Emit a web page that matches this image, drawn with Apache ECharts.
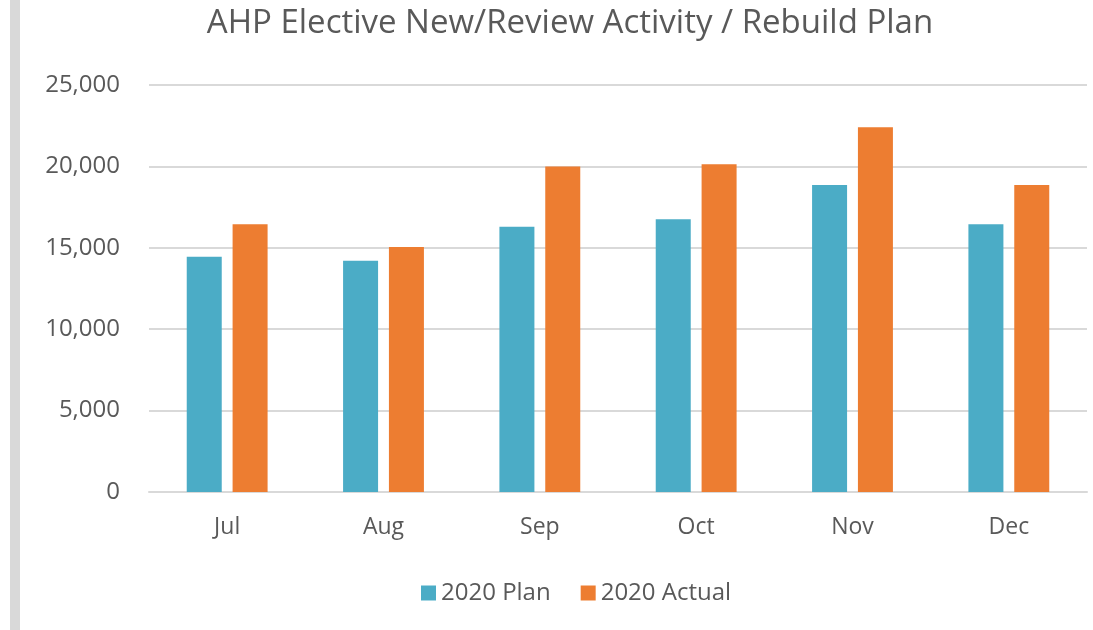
<!DOCTYPE html>
<html>
<head>
<meta charset="utf-8">
<script src="https://cdn.jsdelivr.net/npm/echarts@6/dist/echarts.min.js"></script>
<style>
    html, body { margin: 0; padding: 0; background: #fff; }
    #statistic { width: 1093px; height: 630px; }
</style>
</head>
<body>
<div id="statistic"></div>
<script>
var months = ['Jul', 'Aug', 'Sep', 'Oct', 'Nov', 'Dec'];
var planData = [14450, 14200, 16300, 16750, 18850, 16450];
var actualData = [16450, 15050, 19990, 20130, 22400, 18850];
var yTicks = [0, 5000, 10000, 15000, 20000, 25000];

var textColor = '#595959';
var fontName = 'Open Sans';

var myChart = echarts.init(document.getElementById('statistic'));
var option = {
    backgroundColor: '#fff',
    textStyle: { fontFamily: fontName },
    title: {
        text: 'AHP Elective New/Review Activity / Rebuild Plan',
        left: 565,
        top: 2,
        textAlign: 'center',
        textStyle: {
            color: textColor,
            fontSize: 33,
            fontWeight: 'normal',
            fontFamily: fontName
        }
    },
    // gray strip on the left edge
    graphic: [{
        type: 'rect',
        left: 10,
        top: 0,
        shape: { width: 10, height: 630 },
        style: { fill: '#d9d9d9' }
    }],
    legend: {
        data: ['2020 Plan', '2020 Actual'],
        left: 416,
        top: 576,
        icon: 'rect',
        itemWidth: 15,
        itemHeight: 15,
        itemGap: 30,
        textStyle: { color: textColor, fontSize: 24, fontFamily: fontName }
    },
    grid: {
        left: 149,
        right: 6,
        top: 85,
        bottom: 138
    },
    xAxis: {
        type: 'category',
        data: months,
        axisLine: { lineStyle: { color: '#d9d9d9', width: 2 } },
        axisTick: { show: false },
        axisLabel: { color: textColor, fontSize: 23, margin: 24, fontFamily: fontName }
    },
    yAxis: {
        type: 'value',
        min: yTicks[0],
        max: yTicks[yTicks.length - 1],
        interval: yTicks[1] - yTicks[0],
        axisLine: { show: false },
        axisTick: { show: false },
        splitLine: { lineStyle: { color: '#d9d9d9', width: 2 } },
        axisLabel: {
            color: textColor,
            fontSize: 24,
            margin: 29,
            fontFamily: fontName,
            formatter: function (v) {
                return v.toLocaleString('en-US');
            }
        }
    },
    series: [{
        name: '2020 Plan',
        type: 'bar',
        data: planData,
        barWidth: 35,
        barGap: '31%',
        itemStyle: { color: '#4bacc6' }
    }, {
        name: '2020 Actual',
        type: 'bar',
        data: actualData,
        barWidth: 35,
        itemStyle: { color: '#ed7d31' }
    }]
};
myChart.setOption(option);
</script>
</body>
</html>
